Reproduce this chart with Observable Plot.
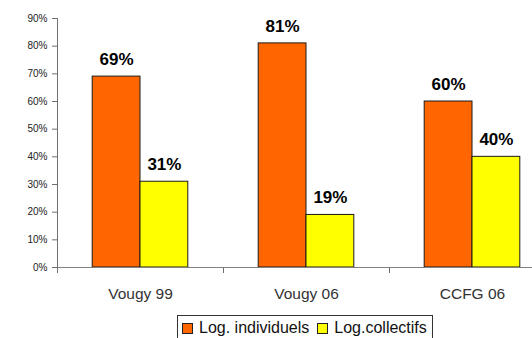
<!DOCTYPE html>
<html>
<head>
<meta charset="utf-8">
<script src="https://cdn.jsdelivr.net/npm/d3@7"></script>
<script src="https://cdn.jsdelivr.net/npm/@observablehq/plot@0.6"></script>
<style>
  html, body { margin: 0; padding: 0; background: #fff; width: 532px; height: 338px; overflow: hidden; }
  #chart { width: 532px; overflow: hidden; }
  #chart svg { display: block; max-width: none !important; height: 312px !important; }
  .legend {
    box-sizing: border-box;
    margin: 3px 0 0 177px;
    width: 256px;
    height: 40px;
    border: 1px solid #333;
    padding: 3px 0 0 4px;
    font: 16px "Liberation Sans", Arial, sans-serif;
    color: #111;
    white-space: nowrap;
  }
  .legend .item { display: inline-block; margin-right: 8px; }
  .legend .sw {
    display: inline-block;
    box-sizing: border-box;
    width: 11px; height: 11px;
    border: 1px solid #222;
    margin-right: 6px;
    vertical-align: -1px;
  }
</style>
</head>
<body>
<div id="chart"></div>
<script>
// Share of individual vs. collective housing per survey
const categories = ["Vougy 99", "Vougy 06", "CCFG 06"];
const seriesNames = ["Log. individuels", "Log.collectifs"];
const individuels = [0.69, 0.81, 0.60];
const collectifs = [0.31, 0.19, 0.40];
const seriesColors = ["#ff6600", "#ffff00"];
const yTicks = [0, 0.1, 0.2, 0.3, 0.4, 0.5, 0.6, 0.7, 0.8, 0.9];

const seriesValues = [individuels, collectifs];
const rows = categories.flatMap((category, i) =>
  seriesNames.map((series, s) => ({category, i, series, s, value: seriesValues[s][i]}))
);

// Each category occupies one unit of x; the pair of bars is centred in it.
const barW = 0.288;
const gap = 0.5 - barW;
const pct = d3.format(".0%");

const chart = Plot.plot({
  width: 560,
  height: 312,
  marginLeft: 57,
  marginRight: 5,
  marginTop: 18,
  marginBottom: 45,
  style: {fontFamily: "'Liberation Sans', Arial, sans-serif", background: "#fff", maxWidth: "none"},
  x: {domain: [0, categories.length], label: null},
  y: {domain: [0, 0.9], label: null},
  color: {domain: seriesNames, range: seriesColors},
  marks: [
    Plot.rectY(rows, {
      x1: d => d.i + gap + d.s * barW,
      x2: d => d.i + gap + (d.s + 1) * barW,
      y: "value",
      fill: "series",
      stroke: "#1a1a1a",
      strokeWidth: 1
    }),
    Plot.ruleY([0], {stroke: "#808080"}),
    Plot.ruleX([0], {stroke: "#707070"}),
    Plot.axisY({
      ticks: yTicks,
      tickFormat: pct,
      tickSize: 5,
      tickPadding: 5,
      fontSize: 10,
      stroke: "#707070",
      fill: "#222",
      label: null
    }),
    Plot.axisX({
      ticks: d3.range(categories.length + 1),
      tickFormat: () => "",
      tickSize: 6,
      stroke: "#707070",
      label: null
    }),
    Plot.axisX({
      ticks: categories.map((_, i) => i + 0.5),
      tickFormat: v => categories[Math.floor(v)],
      tickSize: 0,
      tickPadding: 20,
      fontSize: 15.5,
      fill: "#333",
      label: null
    }),
    Plot.text(rows, {
      x: d => d.i + gap + (d.s + 0.5) * barW,
      y: "value",
      text: d => pct(d.value),
      dy: -17,
      fontSize: 17,
      fontWeight: "bold",
      fill: "#000"
    })
  ]
});

const root = document.getElementById("chart");
root.appendChild(chart);

const legend = document.createElement("div");
legend.className = "legend";
seriesNames.forEach((name, s) => {
  const item = document.createElement("span");
  item.className = "item";
  const sw = document.createElement("span");
  sw.className = "sw";
  sw.style.background = seriesColors[s];
  item.appendChild(sw);
  item.appendChild(document.createTextNode(name));
  legend.appendChild(item);
});
root.appendChild(legend);
</script>
</body>
</html>
